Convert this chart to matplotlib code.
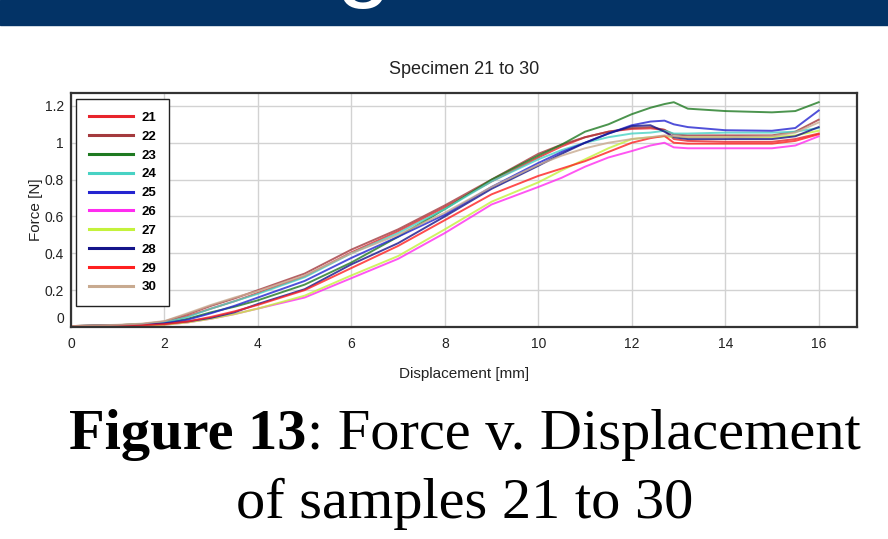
import matplotlib
matplotlib.use("Agg")
import matplotlib.pyplot as plt
from matplotlib.offsetbox import TextArea, HPacker, AnnotationBbox
from matplotlib.transforms import ScaledTranslation

# datos (desplazamiento en mm, fuerza en N)
desplazamiento = [0, 1, 1.5, 2, 2.5, 3, 3.5, 4, 5, 6, 7, 8, 9, 10, 10.5, 11, 11.5,
                  12, 12.4, 12.7, 12.9, 13.2, 14, 15, 15.5, 16]

f21 = [0.005, 0.01, 0.015, 0.025, 0.06, 0.10, 0.14, 0.185, 0.275, 0.405, 0.52, 0.65, 0.79,
       0.92, 0.98, 1.03, 1.06, 1.075, 1.078, 1.07, 1.02, 1.01, 1.005, 1.005, 1.02, 1.05]
f22 = [0.005, 0.01, 0.015, 0.03, 0.07, 0.115, 0.155, 0.20, 0.29, 0.42, 0.53, 0.66, 0.80,
       0.94, 0.99, 1.03, 1.06, 1.08, 1.085, 1.07, 1.045, 1.04, 1.04, 1.04, 1.06, 1.125]
f23 = [0.005, 0.01, 0.015, 0.02, 0.045, 0.08, 0.11, 0.145, 0.23, 0.35, 0.49, 0.64, 0.80,
       0.93, 0.99, 1.06, 1.10, 1.155, 1.19, 1.21, 1.22, 1.185, 1.172, 1.165, 1.172, 1.22]
f24 = [0.005, 0.01, 0.015, 0.025, 0.055, 0.10, 0.14, 0.18, 0.27, 0.40, 0.51, 0.64, 0.79,
       0.91, 0.96, 1.00, 1.03, 1.05, 1.055, 1.065, 1.05, 1.05, 1.055, 1.055, 1.06, 1.08]
f25 = [0.005, 0.008, 0.012, 0.02, 0.04, 0.075, 0.115, 0.16, 0.25, 0.375, 0.49, 0.61, 0.76,
       0.89, 0.95, 1.00, 1.05, 1.095, 1.115, 1.12, 1.10, 1.085, 1.068, 1.065, 1.08, 1.175]
f26 = [0.003, 0.006, 0.008, 0.012, 0.025, 0.045, 0.07, 0.10, 0.16, 0.265, 0.37, 0.51, 0.665,
       0.76, 0.81, 0.87, 0.92, 0.955, 0.985, 1.00, 0.975, 0.97, 0.97, 0.97, 0.985, 1.035]
f27 = [0.003, 0.006, 0.008, 0.012, 0.025, 0.045, 0.07, 0.10, 0.17, 0.28, 0.385, 0.53, 0.68,
       0.785, 0.85, 0.91, 0.97, 1.02, 1.03, 1.035, 1.03, 1.03, 1.03, 1.03, 1.04, 1.065]
f28 = [0.005, 0.008, 0.012, 0.018, 0.03, 0.05, 0.08, 0.125, 0.205, 0.34, 0.455, 0.60, 0.75,
       0.875, 0.94, 1.00, 1.05, 1.09, 1.095, 1.06, 1.03, 1.02, 1.02, 1.02, 1.035, 1.085]
f29 = [0.005, 0.008, 0.01, 0.015, 0.03, 0.055, 0.085, 0.12, 0.20, 0.32, 0.44, 0.58, 0.72,
       0.82, 0.86, 0.90, 0.95, 1.00, 1.025, 1.037, 1.00, 0.995, 0.995, 0.995, 1.01, 1.046]
f30 = [0.005, 0.012, 0.018, 0.032, 0.075, 0.12, 0.16, 0.195, 0.28, 0.40, 0.50, 0.62, 0.76,
       0.88, 0.93, 0.97, 1.00, 1.02, 1.03, 1.04, 1.035, 1.03, 1.03, 1.035, 1.055, 1.11]

muestras = ["21", "22", "23", "24", "25", "26", "27", "28", "29", "30"]
fuerzas = [f21, f22, f23, f24, f25, f26, f27, f28, f29, f30]
colores = ["#e8242c", "#a43a3e", "#1f7a22", "#48d2c4", "#2424d0",
           "#ff2cf0", "#c4f23c", "#14148a", "#ff2020", "#c8aa90"]

ticks_x = [0, 2, 4, 6, 8, 10, 12, 14, 16]
ticks_y = [0, 0.2, 0.4, 0.6, 0.8, 1, 1.2]
etiquetas_y = ["0", "0.2", "0.4", "0.6", "0.8", "1", "1.2"]

plt.rcParams["font.family"] = ["Liberation Sans", "DejaVu Sans"]

fig = plt.figure(figsize=(8.88, 5.39), dpi=100)

# franja azul de arriba con el trozo de letra
fig.patches.append(plt.Rectangle((0, 1 - 25 / 539), 1, 25 / 539, transform=fig.transFigure,
                                 color="#033366", zorder=0))
fig.text(364 / 888, 1 + 12 / 539, "g", color="white", fontsize=72, ha="center",
         va="baseline", zorder=2)

ax = fig.add_axes([71 / 888, 1 - 327 / 539, 786 / 888, 234 / 539])

for nombre, f, c in zip(muestras, fuerzas, colores):
    ax.plot(desplazamiento, f, color=c, lw=1.4, alpha=0.8, label=nombre)

ax.set_xlim(0, 16.82)
ax.set_ylim(0, 1.27)
ax.set_xticks(ticks_x)
ax.set_yticks(ticks_y)
ax.set_yticklabels(etiquetas_y)
ax.tick_params(length=0, labelsize=10, colors="#222222")
ax.tick_params(axis="x", pad=7)
ax.tick_params(axis="y", pad=5)
ax.grid(True, color="#d2d2d2", lw=1)
ax.set_axisbelow(True)
for lado in ax.spines.values():
    lado.set_color("#333333")
    lado.set_linewidth(1.6)

# el cero del eje y va un poco mas arriba, como en el original
cero = ax.yaxis.get_major_ticks()[0].label1
cero.set_transform(cero.get_transform() + ScaledTranslation(0, 7 / 72, fig.dpi_scale_trans))

ax.set_title("Specimen 21 to 30", fontsize=13, pad=14, color="#222222")
ax.set_xlabel("Displacement [mm]", fontsize=11, labelpad=12, color="#222222")
ax.set_ylabel("Force [N]", fontsize=11, labelpad=1, color="#222222")

leg = ax.legend(loc="upper left", bbox_to_anchor=(0.0064, 0.974), borderaxespad=0,
                prop={"weight": "bold", "size": 9.5}, handlelength=3.4, handletextpad=0.6,
                labelspacing=0.5, borderpad=0.95, fancybox=False, framealpha=1,
                edgecolor="#222222")
leg.get_frame().set_linewidth(1.0)
for linea in leg.get_lines():
    linea.set_linewidth(2.2)
    linea.set_alpha(1)

# pie de figura
t1 = TextArea("Figure 13", textprops=dict(family="Liberation Serif", weight="bold", size=42))
t2 = TextArea(": Force v. Displacement", textprops=dict(family="Liberation Serif", size=42))
fila = HPacker(children=[t1, t2], align="baseline", pad=0, sep=0)
caja = AnnotationBbox(fila, (465 / 888, 1 - 435 / 539), xycoords="figure fraction",
                      frameon=False, box_alignment=(0.5, 0.5))
fig.add_artist(caja)
fig.text(465 / 888, 1 - 504 / 539, "of samples 21 to 30", family="Liberation Serif",
         size=42, ha="center", va="center")

fig.savefig("out.png", dpi=100)
